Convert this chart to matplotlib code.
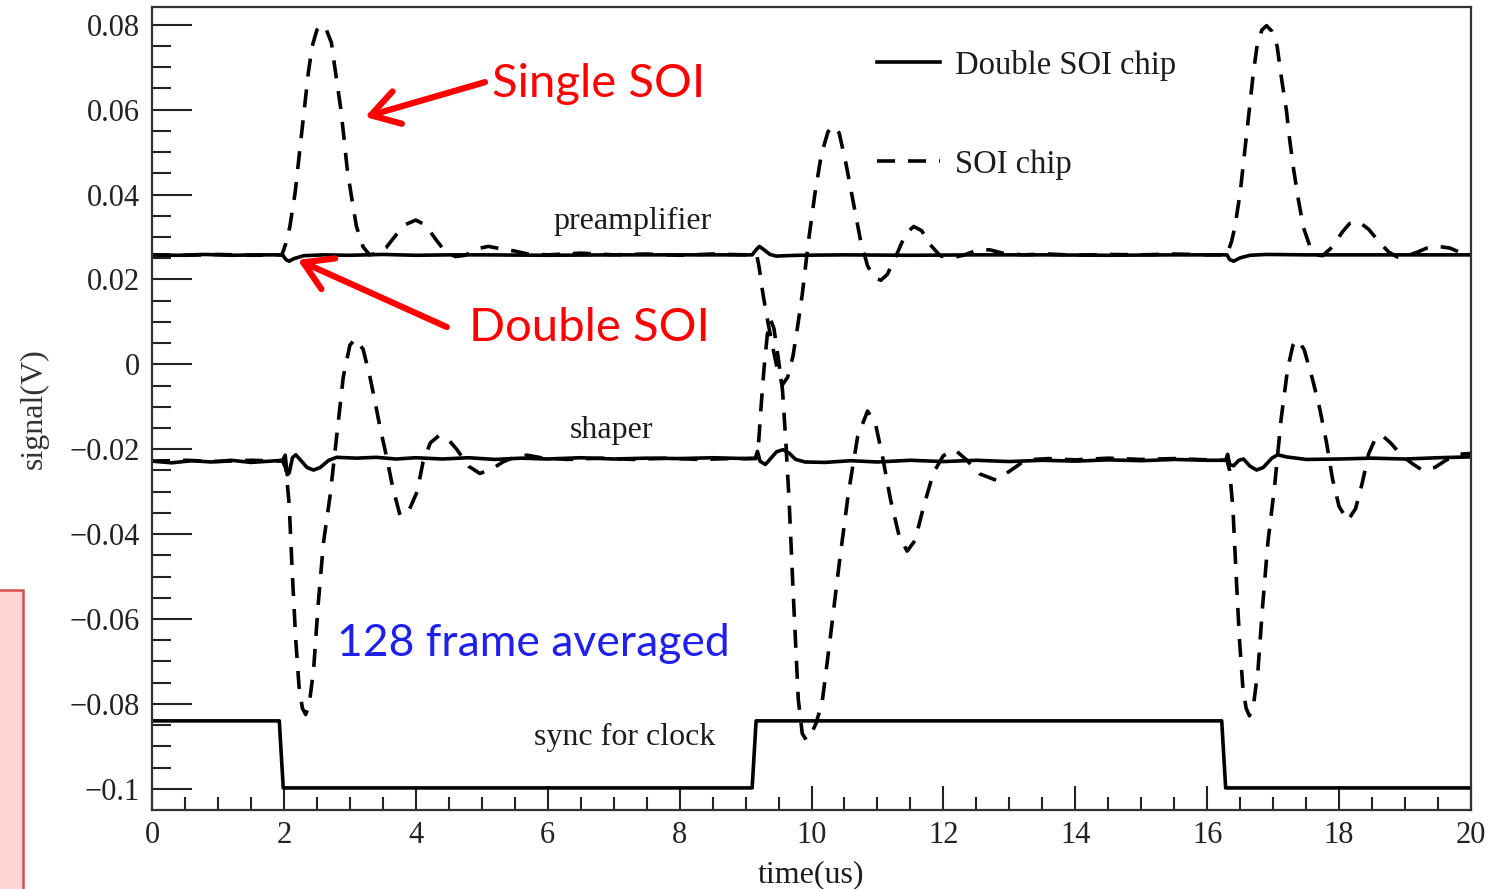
import numpy as np
import matplotlib
matplotlib.use("Agg")
import matplotlib.pyplot as plt
from matplotlib.patches import Rectangle

# ---- data: (time in us, signal in V) ----
pre_double = [(0, 0.0258), (0.4, 0.0257), (0.8, 0.0259), (1.2, 0.0257), (1.6, 0.0258), (1.98, 0.0258),
              (2.03, 0.0247), (2.08, 0.0243), (2.15, 0.0249), (2.3, 0.0256), (2.6, 0.0258), (3.0, 0.0257),
              (3.5, 0.0259), (4.0, 0.0257), (4.5, 0.0258), (5.0, 0.0258), (6.0, 0.0257), (7.0, 0.0258),
              (8.0, 0.0258), (9.1, 0.0258), (9.16, 0.0270), (9.21, 0.0278), (9.28, 0.0270), (9.37, 0.0259),
              (9.47, 0.0255), (9.6, 0.0256), (9.8, 0.0257), (10.5, 0.0258), (11.5, 0.0257), (12.5, 0.0258),
              (13.5, 0.0258), (14.5, 0.0257), (15.5, 0.0258), (16.3, 0.0258), (16.34, 0.0247), (16.4, 0.0243),
              (16.5, 0.0251), (16.65, 0.0257), (16.9, 0.0259), (17.5, 0.0258), (18.5, 0.0258), (19.5, 0.0258),
              (20.0, 0.0258)]

pre_soi = [(0.0, 0.0258), (0.5, 0.0257), (1.0, 0.0259), (1.5, 0.0257), (1.97, 0.0258),
           (2.03, 0.0285), (2.09, 0.0324), (2.13, 0.0365), (2.17, 0.0404), (2.22, 0.0475), (2.27, 0.0546),
           (2.32, 0.0616), (2.37, 0.0687), (2.43, 0.0750), (2.5, 0.0788), (2.57, 0.0800), (2.64, 0.0790),
           (2.72, 0.0758), (2.79, 0.0680), (2.86, 0.0605), (2.91, 0.0535), (2.96, 0.0460), (3.03, 0.0390),
           (3.1, 0.0325), (3.2, 0.0277), (3.3, 0.0258), (3.42, 0.0262), (3.55, 0.0275), (3.7, 0.0305),
           (3.85, 0.0330), (4.0, 0.0340), (4.15, 0.0328), (4.3, 0.0295), (4.45, 0.0265), (4.6, 0.0254),
           (4.75, 0.0257), (4.92, 0.0272), (5.1, 0.0278), (5.3, 0.0272), (5.5, 0.0267), (5.7, 0.0260),
           (6.0, 0.0258), (6.5, 0.0262), (7.0, 0.0258), (7.5, 0.0260), (8.0, 0.0257), (8.5, 0.0260),
           (9.0, 0.0258), (9.17, 0.0258),
           (9.21, 0.0225), (9.26, 0.0170), (9.32, 0.0115), (9.4, 0.0050), (9.48, -0.0010), (9.56, -0.0048),
           (9.64, -0.0030), (9.72, 0.0020), (9.79, 0.0090), (9.86, 0.0165), (9.95, 0.0285), (10.05, 0.0400),
           (10.15, 0.0495), (10.25, 0.0548), (10.33, 0.0562), (10.42, 0.0545), (10.52, 0.0475), (10.63, 0.0385),
           (10.74, 0.0295), (10.85, 0.0232), (10.95, 0.0205), (11.05, 0.0198), (11.15, 0.0212), (11.3, 0.0262),
           (11.43, 0.0308), (11.55, 0.0325), (11.67, 0.0315), (11.8, 0.0282), (11.95, 0.0256), (12.1, 0.0250),
           (12.3, 0.0257), (12.5, 0.0268), (12.7, 0.0270), (12.9, 0.0262), (13.2, 0.0258), (13.6, 0.0260),
           (14.0, 0.0257), (14.5, 0.0259), (15.0, 0.0258), (15.5, 0.0260), (16.0, 0.0258), (16.3, 0.0258),
           (16.37, 0.0290), (16.42, 0.0324), (16.5, 0.0404), (16.55, 0.0475), (16.6, 0.0546), (16.65, 0.0616),
           (16.7, 0.0687), (16.76, 0.0755), (16.83, 0.0788), (16.9, 0.0798), (16.98, 0.0785), (17.06, 0.0750),
           (17.13, 0.0670), (17.2, 0.0600), (17.25, 0.0530), (17.31, 0.0460), (17.38, 0.0390), (17.46, 0.0322),
           (17.56, 0.0277), (17.64, 0.0258), (17.75, 0.0256), (17.9, 0.0277), (18.05, 0.0312), (18.16, 0.0332),
           (18.29, 0.0337), (18.45, 0.0318), (18.62, 0.0286), (18.75, 0.0265), (18.88, 0.0253), (19.03, 0.0256),
           (19.18, 0.0264), (19.33, 0.0274), (19.5, 0.0278), (19.68, 0.0274), (19.83, 0.0264), (20.0, 0.0258)]

shp_double = [(0, -0.0228), (0.3, -0.0232), (0.6, -0.0227), (0.9, -0.0230), (1.2, -0.0226), (1.5, -0.0231),
              (1.8, -0.0228), (1.98, -0.0226), (2.02, -0.0214), (2.05, -0.0260), (2.08, -0.0256), (2.13, -0.0220),
              (2.18, -0.0213), (2.25, -0.0225), (2.35, -0.0243), (2.45, -0.0249), (2.55, -0.0243), (2.68, -0.0226),
              (2.8, -0.0219), (3.1, -0.0221), (3.4, -0.0219), (3.7, -0.0223), (4.0, -0.0220), (4.4, -0.0223),
              (4.8, -0.0220), (5.2, -0.0224), (5.6, -0.0221), (6.0, -0.0223), (6.5, -0.0220), (7.0, -0.0223),
              (7.5, -0.0221), (8.0, -0.0222), (8.5, -0.0220), (9.0, -0.0222), (9.15, -0.0221), (9.18, -0.0205),
              (9.22, -0.0228), (9.3, -0.0236), (9.38, -0.0222), (9.47, -0.0206), (9.57, -0.0201), (9.66, -0.0209),
              (9.76, -0.0224), (9.9, -0.0230), (10.2, -0.0231), (10.6, -0.0227), (11.0, -0.0230), (11.5, -0.0226),
              (12.0, -0.0229), (12.5, -0.0226), (13.0, -0.0229), (13.5, -0.0226), (14.0, -0.0228), (14.5, -0.0225),
              (15.0, -0.0227), (15.5, -0.0224), (16.0, -0.0226), (16.28, -0.0226), (16.31, -0.0212),
              (16.34, -0.0236), (16.4, -0.0239), (16.48, -0.0226), (16.55, -0.0223), (16.65, -0.0240),
              (16.75, -0.0249), (16.85, -0.0243), (16.98, -0.0221), (17.07, -0.0213), (17.2, -0.0218),
              (17.5, -0.0224), (18.0, -0.0223), (18.5, -0.0221), (19.0, -0.0223), (19.5, -0.0220), (20.0, -0.0218)]

shp_soi = [(0.0, -0.0228), (0.5, -0.0226), (1.0, -0.0229), (1.5, -0.0226), (1.98, -0.0228),
           (2.03, -0.0245), (2.08, -0.0330), (2.13, -0.0500), (2.18, -0.0650), (2.23, -0.0760), (2.28, -0.0810),
           (2.33, -0.0825), (2.38, -0.0805), (2.45, -0.0720), (2.52, -0.0565), (2.6, -0.0420), (2.7, -0.0310),
           (2.8, -0.0170), (2.9, -0.0030), (3.0, 0.0045), (3.08, 0.0060), (3.2, 0.0036), (3.3, -0.0026),
           (3.38, -0.0087), (3.46, -0.0150), (3.56, -0.0220), (3.65, -0.0290), (3.76, -0.0355), (3.88, -0.0350),
           (4.02, -0.0300), (4.11, -0.0230), (4.22, -0.0185), (4.35, -0.0168), (4.48, -0.0175), (4.62, -0.0200),
           (4.8, -0.0240), (4.97, -0.0257), (5.15, -0.0247), (5.32, -0.0230), (5.5, -0.0218), (5.69, -0.0214),
           (5.9, -0.0220), (6.3, -0.0224), (6.8, -0.0221), (7.3, -0.0224), (7.8, -0.0221), (8.3, -0.0224),
           (8.8, -0.0222), (9.16, -0.0222),
           (9.2, -0.0180), (9.24, -0.0090), (9.28, -0.0010), (9.33, 0.0070), (9.38, 0.0105), (9.43, 0.0085),
           (9.5, 0.0010), (9.56, -0.0060), (9.61, -0.0180), (9.66, -0.0320), (9.72, -0.0530), (9.8, -0.0790),
           (9.86, -0.0870), (9.92, -0.0885), (10.0, -0.0870), (10.07, -0.0845), (10.16, -0.0798),
           (10.28, -0.0650), (10.42, -0.0470), (10.56, -0.0303), (10.7, -0.0170), (10.85, -0.0110),
           (10.97, -0.0140), (11.08, -0.0220), (11.2, -0.0320), (11.33, -0.0405), (11.45, -0.0440),
           (11.57, -0.0415), (11.7, -0.0335), (11.85, -0.0255), (12.0, -0.0215), (12.18, -0.0202),
           (12.35, -0.0225), (12.55, -0.0258), (12.8, -0.0273), (13.0, -0.0252), (13.25, -0.0225),
           (13.6, -0.0222), (14.0, -0.0225), (14.5, -0.0221), (15.0, -0.0224), (15.5, -0.0222), (16.0, -0.0225),
           (16.3, -0.0226),
           (16.34, -0.0250), (16.39, -0.0340), (16.44, -0.0500), (16.49, -0.0650), (16.54, -0.0760),
           (16.59, -0.0810), (16.64, -0.0828), (16.7, -0.0805), (16.77, -0.0720), (16.84, -0.0570),
           (16.92, -0.0420), (17.02, -0.0290), (17.12, -0.0130), (17.22, -0.0010), (17.3, 0.0045),
           (17.37, 0.0058), (17.47, 0.0035), (17.6, -0.0037), (17.71, -0.0107), (17.81, -0.0185),
           (17.9, -0.0270), (18.0, -0.0335), (18.13, -0.0368), (18.25, -0.0340), (18.35, -0.0280),
           (18.45, -0.0210), (18.55, -0.0175), (18.65, -0.0167), (18.78, -0.0185), (18.95, -0.0215),
           (19.12, -0.0235), (19.27, -0.0250), (19.45, -0.0243), (19.62, -0.0226), (19.8, -0.0212), (20.0, -0.0210)]

clock = [(0, -0.0840), (1.93, -0.0840), (1.99, -0.0998), (9.10, -0.0998), (9.16, -0.0840),
         (16.22, -0.0840), (16.28, -0.0998), (20.0, -0.0998)]

curve_labels = ["preamplifier", "shaper", "sync for clock"]
label_pos = [(7.28, 0.0336), (6.97, -0.0157), (7.17, -0.0878)]

serif = "Liberation Serif"
ink = "#1c1c1c"

fig = plt.figure(figsize=(15.03, 8.89), dpi=100)
ax = fig.add_axes([152 / 1503, 1 - 810 / 889, (1471 - 152) / 1503, (810 - 7) / 889])

lw_s = 2.6
dash = (0, (5.0, 3.6))
h_double, = ax.plot(*np.array(pre_double).T, color="black", lw=lw_s, label="Double SOI chip")
h_soi, = ax.plot(*np.array(pre_soi).T, color="black", lw=lw_s, linestyle=dash, label="SOI chip")
ax.plot(*np.array(shp_double).T, color="black", lw=lw_s)
ax.plot(*np.array(shp_soi).T, color="black", lw=lw_s, linestyle=dash)
ax.plot(*np.array(clock).T, color="black", lw=lw_s)

ax.set_xlim(0, 20)
ax.set_ylim(-0.105, 0.0842)
ax.set_xticks(np.arange(0, 21, 2))
ax.set_xticks(np.arange(0, 20.01, 0.5), minor=True)
ax.set_yticks([-0.1, -0.08, -0.06, -0.04, -0.02, 0, 0.02, 0.04, 0.06, 0.08])
ax.set_yticks(np.arange(-0.1, 0.0801, 0.005), minor=True)
ax.set_yticklabels(["\u22120.1", "\u22120.08", "\u22120.06", "\u22120.04", "\u22120.02", "0",
                    "0.02", "0.04", "0.06", "0.08"])

for s in ax.spines.values():
    s.set_linewidth(1.6)
    s.set_color("#333333")
ax.tick_params(axis="both", which="both", direction="in", colors="#222222", width=1.5,
               labelsize=22, top=False, right=False)
ax.tick_params(axis="y", which="major", length=29, pad=9)
ax.tick_params(axis="y", which="minor", length=14)
ax.tick_params(axis="x", which="major", length=17, pad=8)
ax.tick_params(axis="x", which="minor", length=9.5)
for t in ax.get_xticklabels() + ax.get_yticklabels():
    t.set_fontfamily(serif)

ax.set_xlabel("time(us)", fontfamily=serif, fontsize=23, color=ink, labelpad=7)
ax.set_ylabel("signal(V)", fontfamily=serif, fontsize=23, color="#333333", labelpad=15)

for txt, (x, y) in zip(curve_labels, label_pos):
    ax.text(x, y, txt, fontfamily=serif, fontsize=23, color=ink, ha="center", va="center")

ax.legend(handles=[h_double, h_soi], loc="upper left", bbox_to_anchor=(0.5497, 0.947),
          frameon=False, prop={"family": serif, "size": 23.5}, handlelength=1.93,
          handletextpad=0.46, labelspacing=2.1, borderpad=0, borderaxespad=0,
          labelcolor=ink)

# red annotations
arrow = dict(arrowstyle="->,head_length=0.9,head_width=0.55", lw=4.5, color="red",
             mutation_scale=22, shrinkA=0, shrinkB=0)
ax.annotate("", xy=(3.23, 0.0583), xytext=(5.05, 0.0665), arrowprops=arrow)
ax.text(5.15, 0.0660, "Single SOI", color="red", fontfamily="Lato", fontsize=34, va="center")
ax.annotate("", xy=(2.21, 0.0246), xytext=(4.47, 0.0088), arrowprops=arrow)
ax.text(4.8, 0.0085, "Double SOI", color="red", fontfamily="Lato", fontsize=34, va="center")
ax.text(2.8, -0.0658, "128 frame averaged", color="#2020ee", fontfamily="Lato", fontsize=32, va="center")

# pink box at the left edge of the slide
fig.patches.append(Rectangle((-0.01, -0.01), 0.01 + 23 / 1503, 0.01 + 299 / 889,
                             transform=fig.transFigure, facecolor="#ffd4d4",
                             edgecolor="#d65050", lw=1.8, zorder=0))

fig.savefig("out.png", dpi=100)
